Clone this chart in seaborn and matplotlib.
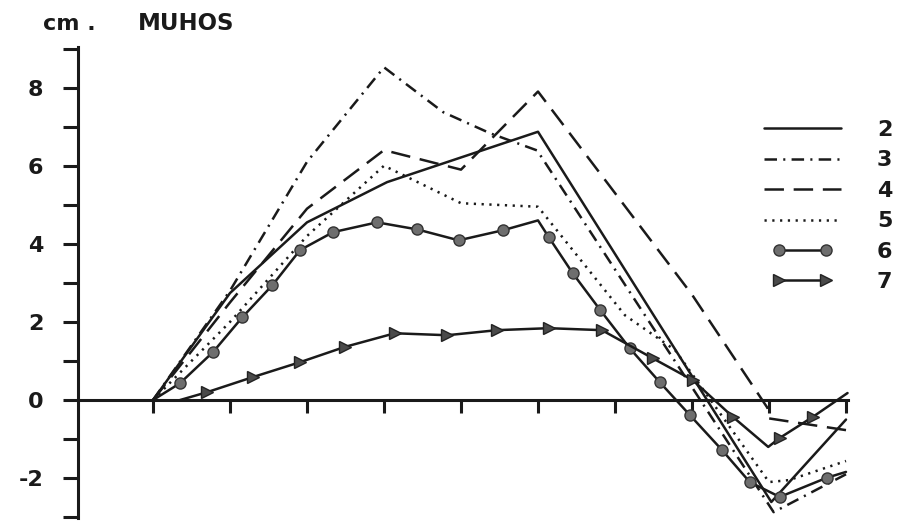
import matplotlib
matplotlib.use("Agg")
import matplotlib.pyplot as plt
import seaborn as sns
import pandas as pd
from matplotlib.legend_handler import HandlerLine2D
from matplotlib.ticker import FixedLocator

sns.set_style("white")
plt.rcParams["font.family"] = ["DejaVu Sans"]
plt.rcParams["lines.scale_dashes"] = False

# ---------------- data ----------------
title = "MUHOS"
unit_label = "cm ."
series_labels = ["2", "3", "4", "5", "6", "7"]
y_major = [-2, 0, 2, 4, 6, 8]
y_minor = [-3, -1, 1, 3, 5, 7, 9]
x_ticks = [0, 1, 2, 3, 4, 5, 6, 7, 8, 9]

s2_x = [0, 1, 2, 3.04, 5, 8.03, 9.0]
s2_y = [0, 2.74, 4.55, 5.58, 6.87, -2.61, -0.5]

s3_x = [0, 1, 2, 3, 3.77, 4.38, 4.99, 8.06, 9.0]
s3_y = [0, 2.8, 6.1, 8.52, 7.37, 6.83, 6.39, -2.87, -1.9]

s4_x = [0, 1, 2, 3, 4, 5, 7.0, 7.98, 8.0, 9.0]
s4_y = [0, 2.5, 4.9, 6.4, 5.9, 7.9, 2.7, -0.2, -0.47, -0.77]

s5_x = [0, 1, 2, 3, 4, 5, 6.13, 6.78, 8.0, 8.26, 9.0]
s5_y = [0, 2.0, 4.2, 6.0, 5.04, 4.95, 2.17, 1.28, -2.1, -2.05, -1.56]

s6_x = [0, 0.35, 0.78, 1.16, 1.55, 1.91, 2.34, 2.91, 3.43, 3.97, 4.55, 5.0,
        5.14, 5.45, 5.81, 6.19, 6.58, 6.97, 7.39, 7.75, 8.14, 8.75, 9.0]
s6_y = [0, 0.43, 1.23, 2.12, 2.94, 3.84, 4.30, 4.55, 4.37, 4.09, 4.35, 4.6,
        4.17, 3.25, 2.30, 1.33, 0.46, -0.38, -1.28, -2.10, -2.48, -1.99, -1.84]
s6_marks = [1, 2, 3, 4, 5, 6, 7, 8, 9, 10, 12, 13, 14, 15, 16, 17, 18, 19, 20, 21]

s7_x = [0.35, 0.70, 1.30, 1.91, 2.49, 3.14, 3.82, 4.47, 5.14, 5.83, 6.49,
        7.01, 7.53, 7.99, 8.14, 8.57, 9.02]
s7_y = [0.0, 0.2, 0.59, 0.97, 1.36, 1.71, 1.66, 1.79, 1.84, 1.79, 1.07,
        0.51, -0.43, -1.2, -0.97, -0.43, 0.18]
s7_marks = [1, 2, 3, 4, 5, 6, 7, 8, 9, 10, 11, 12, 14, 15]

# ---------------- figure ----------------
W, H = 902, 524
fig = plt.figure(figsize=(W / 100, H / 100), dpi=100)
ax = fig.add_axes([78 / W, 6 / H, 770 / W, 471 / H])

ink = "#1a1a1a"
lw = 1.8

styles = [
    dict(linestyle="-"),
    dict(linestyle=(0, (9, 4.5, 1.5, 4.5))),
    dict(linestyle=(0, (14, 7))),
    dict(linestyle=(0, (1.6, 4.0))),
    dict(linestyle="-", marker="o", markersize=8, markerfacecolor="#6e6e6e",
         markeredgecolor="#333333", markeredgewidth=1.0, markevery=s6_marks),
    dict(linestyle="-", marker=">", markersize=9, markerfacecolor="#4a4a4a",
         markeredgecolor="#222222", markeredgewidth=1.0, markevery=s7_marks),
]
xs = [s2_x, s3_x, s4_x, s5_x, s6_x, s7_x]
ys = [s2_y, s3_y, s4_y, s5_y, s6_y, s7_y]

handles = []
for lab, x, y, st in zip(series_labels, xs, ys, styles):
    df = pd.DataFrame({"x": x, "y": y})
    sns.lineplot(data=df, x="x", y="y", ax=ax, sort=False, estimator=None,
                 color=ink, linewidth=lw, legend=False, clip_on=False, **st)
    ln = ax.lines[-1]
    ln.set_label(lab)
    handles.append(ln)

ax.set_xlim(-0.974, 9.026)
ax.set_ylim(-3.02, 9.04)
ax.set_xlabel("")
ax.set_ylabel("")

for s in ["top", "right"]:
    ax.spines[s].set_visible(False)
ax.spines["bottom"].set_position(("data", 0))
for s in ["left", "bottom"]:
    ax.spines[s].set_linewidth(2.2)
    ax.spines[s].set_color(ink)

ax.xaxis.set_major_locator(FixedLocator(x_ticks))
ax.set_xticklabels([])
ax.tick_params(axis="x", which="major", direction="out", length=9.5, width=2.2,
               color=ink, bottom=True)
ax.yaxis.set_major_locator(FixedLocator(y_major))
ax.yaxis.set_minor_locator(FixedLocator(y_minor))
ax.set_yticklabels(["-2", "0", "2", "4", "6", "8"])
ax.tick_params(axis="y", which="both", direction="out", length=11, width=2.2,
               color=ink, left=True)
ax.tick_params(axis="y", which="major", pad=14, labelsize=16, labelcolor=ink)
for t in ax.get_yticklabels():
    t.set_fontweight("bold")

# ---------------- texts ----------------
fig.text(43 / W, 1 - 24 / H, unit_label, ha="left", va="center", fontsize=16,
         fontweight="bold", color=ink)
fig.text(138 / W, 1 - 24 / H, title, ha="left", va="center", fontsize=16.5,
         fontweight="bold", color=ink)

# ---------------- legend ----------------
hmap = {handles[4]: HandlerLine2D(marker_pad=1.0, numpoints=2),
        handles[5]: HandlerLine2D(marker_pad=1.0, numpoints=2)}
leg = ax.legend(handles=handles, labels=series_labels, loc="upper left",
                bbox_to_anchor=(757 / W, 1 - 120 / H),
                bbox_transform=fig.transFigure, frameon=False, fontsize=16,
                handlelength=4.1, handletextpad=1.3, labelspacing=0.47,
                borderpad=0, borderaxespad=0, numpoints=2, handler_map=hmap)
for t in leg.get_texts():
    t.set_fontweight("bold")
    t.set_color(ink)

fig.savefig("out.png", dpi=100, facecolor="white")
